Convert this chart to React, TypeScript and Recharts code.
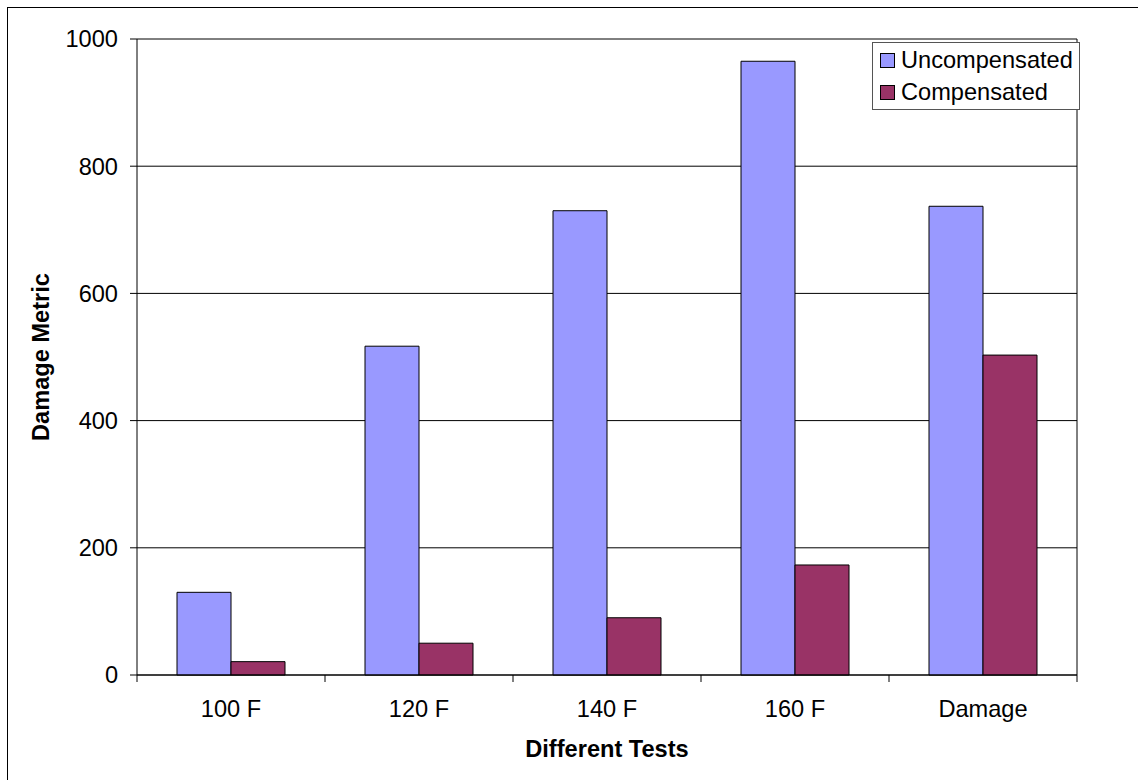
import React from "react";
import {
  BarChart,
  Bar,
  XAxis,
  YAxis,
  CartesianGrid,
  Legend,
} from "recharts";

const categories = ["100 F", "120 F", "140 F", "160 F", "Damage"];
const uncompensated = [130, 517, 730, 965, 737];
const compensated = [21, 50, 90, 173, 503];
const yTicks = [0, 200, 400, 600, 800, 1000];

const seriesNames = ["Uncompensated", "Compensated"];
const seriesColors = ["#9999ff", "#993366"];

const W = 1138;
const H = 780;
const PLOT_LEFT = 137;
const PLOT_RIGHT = 1077;
const PLOT_TOP = 39;
const PLOT_BOTTOM = 675;
const Y_AXIS_W = 100;
const X_AXIS_H = 40;
const FONT = "'Liberation Sans', Arial, sans-serif";
const FS = 23.6;

const data = categories.map((name, i) => ({
  name,
  uncompensated: uncompensated[i],
  compensated: compensated[i],
}));

const band = (PLOT_RIGHT - PLOT_LEFT) / categories.length;

// Excel style: tick marks sit between the categories, not under them
function CategoryTick(props: any) {
  const { x, y, payload, index } = props;
  const axisY = y - 25;
  const half = band / 2;
  return (
    <g>
      <line x1={x - half} x2={x - half} y1={axisY} y2={axisY + 7} stroke="#000" />
      {index === categories.length - 1 && (
        <line x1={x + half} x2={x + half} y1={axisY} y2={axisY + 7} stroke="#000" />
      )}
      <text
        x={x}
        y={y}
        dy="0.71em"
        textAnchor="middle"
        fontSize={FS}
        fontFamily={FONT}
        fill="#000"
      >
        {payload.value}
      </text>
    </g>
  );
}

function LegendBox() {
  return (
    <div
      style={{
        border: "1px solid #555",
        background: "#fff",
        padding: "1px 6px 1px 7px",
        fontFamily: FONT,
        fontSize: FS,
        lineHeight: "32px",
        color: "#000",
      }}
    >
      {seriesNames.map((name, i) => (
        <div key={name} style={{ display: "flex", alignItems: "center", whiteSpace: "nowrap" }}>
          <span
            style={{
              display: "inline-block",
              width: 13,
              height: 13,
              background: seriesColors[i],
              border: "1px solid #000",
              marginRight: 6,
            }}
          />
          {name}
        </div>
      ))}
    </div>
  );
}

export default function App() {
  return (
    <div
      style={{
        position: "fixed",
        left: 0,
        top: 0,
        width: W,
        height: H,
        overflow: "hidden",
        background: "#fff",
      }}
    >
      <div
        style={{
          position: "absolute",
          left: 7,
          top: 7,
          width: W + 40,
          height: H + 40,
          border: "1px solid #000",
        }}
      />
      <div style={{ position: "absolute", left: 0, top: 0 }}>
        <BarChart
          width={W}
          height={H}
          data={data}
          barGap={0}
          barCategoryGap={40}
          margin={{
            top: PLOT_TOP,
            right: W - PLOT_RIGHT,
            bottom: H - PLOT_BOTTOM - X_AXIS_H,
            left: PLOT_LEFT - Y_AXIS_W,
          }}
        >
          <CartesianGrid
            stroke="#000"
            horizontal={true}
            vertical={true}
            verticalCoordinatesGenerator={({ offset }: any) => [offset.left + offset.width]}
          />
          <XAxis
            dataKey="name"
            height={X_AXIS_H}
            axisLine={{ stroke: "#000" }}
            tickLine={false}
            tickSize={7}
            tickMargin={18}
            tick={<CategoryTick />}
            interval={0}
            label={{
              content: ({ viewBox }: any) => (
                <text
                  x={viewBox.x + viewBox.width / 2}
                  y={viewBox.y + viewBox.height + 42}
                  textAnchor="middle"
                  fontSize={FS}
                  fontWeight="bold"
                  fontFamily={FONT}
                  fill="#000"
                >
                  Different Tests
                </text>
              ),
            }}
          />
          <YAxis
            width={Y_AXIS_W}
            domain={[0, 1000]}
            ticks={yTicks}
            interval={0}
            axisLine={{ stroke: "#000" }}
            tickLine={{ stroke: "#000" }}
            tickSize={7}
            tickMargin={12}
            tick={{ fontSize: FS, fontFamily: FONT, fill: "#000" }}
            label={{
              content: ({ viewBox }: any) => {
                const cx = viewBox.x + 4;
                const cy = viewBox.y + viewBox.height / 2;
                return (
                  <text
                    x={cx}
                    y={cy}
                    transform={`rotate(-90 ${cx} ${cy})`}
                    textAnchor="middle"
                    dominantBaseline="central"
                    fontSize={FS}
                    fontWeight="bold"
                    fontFamily={FONT}
                    fill="#000"
                  >
                    Damage Metric
                  </text>
                );
              },
            }}
          />
          <Legend
            layout="vertical"
            align="center"
            verticalAlign="middle"
            content={<LegendBox />}
            wrapperStyle={{ left: 872, top: 42, width: "auto", height: "auto" }}
          />
          <Bar
            dataKey="uncompensated"
            name={seriesNames[0]}
            fill={seriesColors[0]}
            stroke="#000"
            strokeWidth={1}
            isAnimationActive={false}
          />
          <Bar
            dataKey="compensated"
            name={seriesNames[1]}
            fill={seriesColors[1]}
            stroke="#000"
            strokeWidth={1}
            isAnimationActive={false}
          />
        </BarChart>
      </div>
    </div>
  );
}
